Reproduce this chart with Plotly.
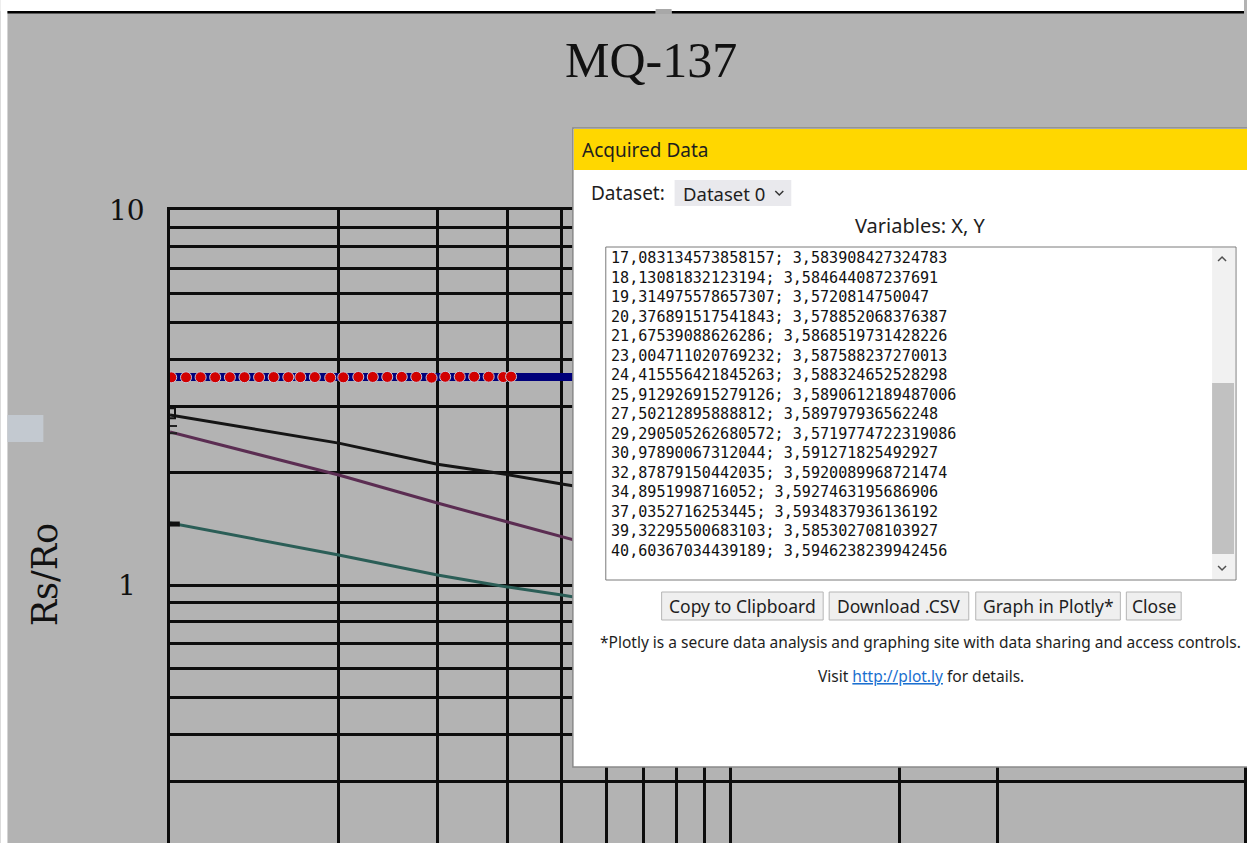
import plotly.graph_objects as go
import math

# ---------------- data ----------------
# Dataset 0 : digitised points (X = ppm, Y = Rs/Ro)
nh3_x = [10.05, 10.68, 11.34, 12.04, 12.79, 13.58, 14.42, 15.31, 16.26,
         17.083134573858157, 18.13081832123194, 19.314975578657307,
         20.376891517541843, 21.67539088626286, 23.004711020769232,
         24.415556421845263, 25.912926915279126, 27.50212895888812,
         29.290505262680572, 30.97890067312044, 32.87879150442035,
         34.8951998716052, 37.0352716253445, 39.32295500683103,
         40.60367034439189]
nh3_y = [3.5788, 3.5796, 3.5803, 3.5810, 3.5818, 3.5825, 3.5831, 3.5840, 3.5832,
         3.583908427324783, 3.584644087237691, 3.5720814750047,
         3.578852068376387, 3.5868519731428226, 3.587588237270013,
         3.588324652528298, 3.5890612189487006, 3.589797936562248,
         3.5719774722319086, 3.591271825492927, 3.5920089968721474,
         3.5927463195686906, 3.5934837936136192, 3.585302708103927,
         3.5946238239942456]

# curves printed in the datasheet image
nh3_band_x = [9.8, 60]
nh3_band_y = [3.585, 3.585]
curve_x = [10, 20, 30, 40, 50, 60]
black_y = [2.84, 2.39, 2.1, 1.97, 1.86, 1.78]
plum_y = [2.56, 1.965, 1.654, 1.472, 1.343, 1.25]
teal_y = [1.463, 1.2025, 1.063, 0.988, 0.94, 0.90]

x_grid = [10, 20, 30, 40, 50, 60, 70, 80, 90, 100, 200, 300]
y_grid = [0.2, 0.3, 0.4, 0.5, 0.6, 0.7, 0.8, 0.9, 1, 2, 3, 4, 5, 6, 7, 8, 9, 10]
y_label_text = ["10", "1"]
y_label_vals = [10, 1]

first_listed_row = 9
buttons = ["Copy to Clipboard", "Download .CSV", "Graph in Plotly*", "Close"]

# ---------------- geometry ----------------
W, H = 1247, 843
L, T = 170, 210
PW, PH = W - L, H - T
DEC_X, DEC_Y = 562.0, 375.0


def px(x):
    return (x - L) / PW


def py(y):
    return (H - y) / PH


GRAY = "#b3b3b3"


def rect(x0, y0, x1, y1, fill, line=None, lw=0):
    return dict(type="rect", xref="paper", yref="paper",
                x0=px(x0), x1=px(x1), y0=py(y1), y1=py(y0),
                fillcolor=fill, line=dict(color=line or fill, width=lw),
                layer="above")


def path(points, color, lw=1.5):
    d = "M " + " L ".join(f"{px(a)} {py(b)}" for a, b in points)
    return dict(type="path", xref="paper", yref="paper", path=d,
                line=dict(color=color, width=lw), layer="above")


def text(x, y, s, size, color="#1a1a1a", family="Noto Sans", xanchor="left", angle=0):
    return dict(x=px(x), y=py(y), xref="paper", yref="paper", text=s,
                showarrow=False, xanchor=xanchor, yanchor="middle",
                textangle=angle, font=dict(family=family, size=size, color=color))


fig = go.Figure()

# datasheet curves
fig.add_trace(go.Scatter(x=curve_x, y=black_y, mode="lines",
                         line=dict(color="#151515", width=3)))
fig.add_trace(go.Scatter(x=curve_x, y=plum_y, mode="lines",
                         line=dict(color="#5b2d52", width=3)))
fig.add_trace(go.Scatter(x=curve_x, y=teal_y, mode="lines",
                         line=dict(color="#2b5e57", width=3)))
# little legend marks at left edge
fig.add_trace(go.Scatter(x=[10], y=[2.87], mode="markers",
                         marker=dict(symbol="square-open", size=10, color="#111",
                                     line=dict(width=2, color="#111"))))
fig.add_trace(go.Scatter(x=[10, 10], y=[2.655, 2.54], mode="markers",
                         marker=dict(symbol="line-ew", size=10, color="#222",
                                     line=dict(width=2, color="#222"))))
fig.add_trace(go.Scatter(x=[10], y=[1.454], mode="markers",
                         marker=dict(symbol="line-ew", size=14, color="#111",
                                     line=dict(width=5, color="#111"))))
fig.add_trace(go.Scatter(x=nh3_band_x, y=nh3_band_y, mode="lines",
                         line=dict(color="#00007a", width=8)))
fig.add_trace(go.Scatter(x=nh3_x, y=nh3_y, mode="markers",
                         marker=dict(size=11, color="#d20000",
                                     line=dict(width=1, color="#c6c8dc"))))

axis_common = dict(type="log", showticklabels=False, ticks="", showgrid=True,
                   gridcolor="#0d0d0d", gridwidth=2.6, zeroline=False,
                   showline=True, mirror=True, linecolor="#0d0d0d", linewidth=2.5,
                   fixedrange=True)

fig.update_layout(
    width=W, height=H, autosize=False,
    margin=dict(l=L, r=0, t=T, b=0, pad=0),
    paper_bgcolor=GRAY, plot_bgcolor=GRAY,
    showlegend=False,
    font=dict(family="Noto Sans"),
    xaxis=dict(axis_common, range=[1, 1 + PW / DEC_X], tickvals=x_grid),
    yaxis=dict(axis_common, range=[1 - PH / DEC_Y, 1], tickvals=y_grid),
)

shapes = []
annotations = []

# page frame
shapes.append(rect(0, 0, W, 11, "white"))
shapes.append(rect(0, 0, 7, H, "white"))
shapes.append(rect(7, 11, 657, 13.5, "#000000"))
shapes.append(rect(673, 11, W, 13.5, "#000000"))
shapes.append(rect(657, 9, 673, 14, "#a8a8a8"))
shapes.append(rect(7, 415, 43, 442, "#c3c9d0"))

# titles / labels of the scanned chart
annotations.append(text(652, 60, "MQ-137", 50, "#111", "Liberation Serif", "center"))
annotations.append(text(45, 574, "Rs/Ro", 35, "#111", "DejaVu Serif", "center", -90))
for lab, v in zip(y_label_text, y_label_vals):
    annotations.append(dict(x=px(127), y=math.log10(v), xref="paper", yref="y",
                            text=lab, showarrow=False, xanchor="center", yanchor="middle",
                            font=dict(family="DejaVu Serif", size=28, color="#111")))

# ---------------- dialog ----------------
shapes.append(rect(574, 128, W + 5, 767, "white", "#8a8a8a", 1.5))
shapes.append(rect(575, 129, W + 5, 170, "#ffd700"))
annotations.append(text(581, 150, "Acquired Data", 19, "#1e1e1e"))

annotations.append(text(590, 193, "Dataset:", 19, "#1e1e1e"))
shapes.append(rect(676, 180, 793, 206, "#e9e9ed"))
annotations.append(text(682, 193, "Dataset 0", 18.5, "#1e1e1e"))
shapes.append(path([(777, 191), (781, 195), (785, 191)], "#333", 1.5))

annotations.append(text(923, 226, "Variables: X, Y", 20, "#1e1e1e", xanchor="center"))

# text area
shapes.append(rect(607, 247, 1239, 580, "white", "#7a7a7a", 1))
shapes.append(rect(1215, 248, 1238, 579, "#f1f1f1"))
shapes.append(rect(1215, 383, 1237, 554, "#c1c1c1"))
shapes.append(path([(1221, 261), (1225, 257), (1229, 261)], "#505050", 1.5))
shapes.append(path([(1221, 566), (1225, 570), (1229, 566)], "#505050", 1.5))


def fmt(v):
    return repr(v).replace(".", ",")


for i, (xv, yv) in enumerate(zip(nh3_x[first_listed_row:], nh3_y[first_listed_row:])):
    annotations.append(text(610, 258 + 19.53 * i, f"{fmt(xv)}; {fmt(yv)}", 15.1,
                            "#111", "DejaVu Sans Mono"))

# buttons
btn_x = [(663, 825), (831, 971), (978, 1123), (1129, 1184)]
for label, (b0, b1) in zip(buttons, btn_x):
    shapes.append(rect(b0, 592, b1, 620, "#efefef", "#b5b5b5", 1))
    annotations.append(text((b0 + b1) / 2, 606, label, 17.5, "#1e1e1e", xanchor="center"))

annotations.append(text(923, 642,
                        "*Plotly is a secure data analysis and graphing site with data sharing and access controls.",
                        15.5, "#1e1e1e", xanchor="center"))
annotations.append(text(923, 676,
                        "Visit <span style='color:#1a6fd0'><u>http://plot.ly</u></span> for details.",
                        15.5, "#1e1e1e", xanchor="center"))

fig.update_layout(shapes=shapes, annotations=annotations)

fig.write_html("out.html", config={"displayModeBar": False},
               post_script="document.body.style.margin='0';document.body.style.overflow='hidden';")
